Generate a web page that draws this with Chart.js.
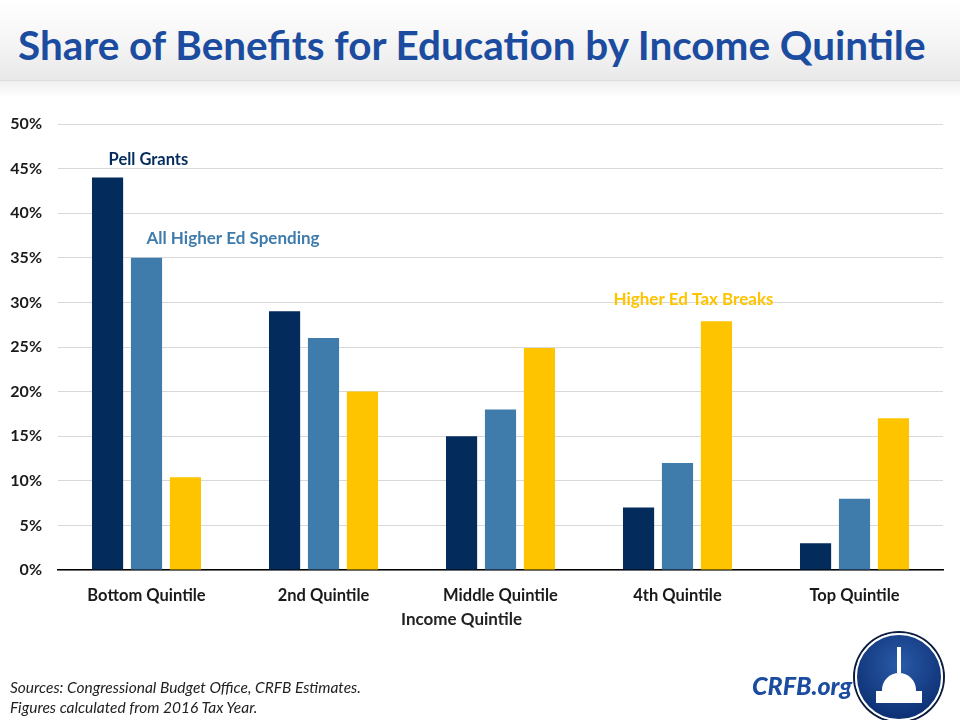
<!DOCTYPE html>
<html>
<head>
<meta charset="utf-8">
<script src="https://cdn.jsdelivr.net/npm/chart.js@4.4.1/dist/chart.umd.min.js"></script>
<style>
  html, body { margin: 0; padding: 0; background: #fff; }
  #wrap { position: relative; width: 960px; height: 720px; overflow: hidden; font-family: Lato, "Open Sans", sans-serif; }
  #header { position: absolute; left: 0; top: 0; width: 960px; height: 80px;
    background: linear-gradient(#ffffff 0%, #f7f7f7 45%, #e9e9e9 100%);
    border-bottom: 1px solid #dcdcdc; }
  #shadow { position: absolute; left: 0; top: 81px; width: 960px; height: 16px;
    background: linear-gradient(#efefef, #ffffff); }
  #title { position: absolute; left: 18px; top: 20px; white-space: nowrap; transform-origin: 0 0;
    font-family: Lato, sans-serif; font-weight: bold; font-size: 41px; color: #1b4c9f; }
  #chart { position: absolute; left: 0; top: 0; }
  .src { position: absolute; left: 10px; font-style: italic; font-size: 15.5px; color: #222; }
  #site { position: absolute; left: 752px; top: 670px; font-style: italic; font-weight: 900; font-size: 25px; color: #1b4c9f; }
  #logo { position: absolute; left: 855px; top: 633px; width: 84px; height: 84px; border-radius: 50%;
    background: radial-gradient(circle at 50% 35%, #2a5aa8, #0e3276 75%);
    border: 2px solid #fff; box-shadow: 0 0 0 2px #0b1d3f; }
  #dome { position: absolute; left: 25px; top: 38px; width: 34px; height: 18px; background: #fff;
    border-radius: 17px 17px 0 0; }
  #base { position: absolute; left: 19px; top: 56px; width: 46px; height: 12px; background: #fff; }
  #spire { position: absolute; left: 40px; top: 12px; width: 4px; height: 26px; background: #fff; }
</style>
</head>
<body>
<div id="wrap">
  <div id="header"></div>
  <div id="shadow"></div>
  <div id="title">Share of Benefits for Education by Income Quintile</div>
  <canvas id="chart" width="960" height="720"></canvas>
  <div class="src" style="top:678px">Sources: Congressional Budget Office, CRFB Estimates.</div>
  <div class="src" style="top:698px">Figures calculated from 2016 Tax Year.</div>
  <div id="site">CRFB.org</div>
  <div id="logo"><div id="spire"></div><div id="dome"></div><div id="base"></div></div>
</div>
<script>
// data
var quintiles = ['Bottom Quintile', '2nd Quintile', 'Middle Quintile', '4th Quintile', 'Top Quintile'];
var pellGrants = [44, 29, 15, 7, 3];
var allHigherEd = [35, 26, 18, 12, 8];
var taxBreaks = [10.4, 20, 24.9, 27.9, 17];
var yTicks = [0, 5, 10, 15, 20, 25, 30, 35, 40, 45, 50];

// fit the title to the reference width
var title = document.getElementById('title');
title.style.transform = 'scaleX(' + (907 / title.offsetWidth) + ')';

var navy = '#032b5b';
var steel = '#3f7bab';
var gold = '#fec400';

var seriesLabels = {
    id: 'seriesLabels',
    afterDatasetsDraw: function(chart) {
        var ctx = chart.ctx;
        ctx.save();
        ctx.font = 'bold 16.5px Lato, sans-serif';
        ctx.textBaseline = 'middle';
        var pell = chart.getDatasetMeta(0).data[0];
        ctx.fillStyle = navy;
        ctx.textAlign = 'left';
        ctx.fillText('Pell Grants', pell.x + 1, pell.y - 18);
        ctx.font = 'bold 17px Lato, sans-serif';
        var all = chart.getDatasetMeta(1).data[0];
        ctx.fillStyle = steel;
        ctx.fillText('All Higher Ed Spending', all.x, all.y - 19);
        var tax = chart.getDatasetMeta(2).data[3];
        ctx.fillStyle = gold;
        ctx.textAlign = 'center';
        ctx.fillText('Higher Ed Tax Breaks', tax.x - 23, tax.y - 22);
        // axis title
        ctx.fillStyle = '#222';
        ctx.fillText('Income Quintile', chart.chartArea.left + (chart.chartArea.right - chart.chartArea.left) / 2 - 39, 620);
        ctx.restore();
    }
};

new Chart(document.getElementById('chart'), {
    type: 'bar',
    data: {
        labels: quintiles,
        datasets: [
            { label: 'Pell Grants', data: pellGrants, backgroundColor: navy },
            { label: 'All Higher Ed Spending', data: allHigherEd, backgroundColor: steel },
            { label: 'Higher Ed Tax Breaks', data: taxBreaks, backgroundColor: gold }
        ]
    },
    options: {
        responsive: false,
        animation: false,
        layout: { padding: { top: 124, right: 17, left: 0, bottom: 0 } },
        datasets: { bar: { categoryPercentage: 0.66, barPercentage: 0.8 } },
        plugins: {
            legend: { display: false },
            tooltip: { enabled: false }
        },
        scales: {
            x: {
                grid: { display: false },
                border: { color: '#000', width: 1.5 },
                ticks: { color: '#1a1a1a', font: { family: 'Lato, sans-serif', size: 16.5, weight: 'bold' }, padding: 8 },
                afterFit: function(axis) { axis.height = 150; }
            },
            y: {
                min: 0,
                max: 50,
                afterBuildTicks: function(axis) { axis.ticks = yTicks.map(function(v) { return { value: v }; }); },
                grid: { color: '#d9d9d9', drawTicks: false },
                border: { display: false },
                ticks: {
                    color: '#1a1a1a',
                    padding: 16,
                    font: { family: 'Lato, sans-serif', size: 16, weight: 'bold' },
                    callback: function(v) { return v + '%'; }
                },
                afterFit: function(axis) { axis.width = 58; }
            }
        }
    },
    plugins: [seriesLabels]
});
</script>
</body>
</html>
